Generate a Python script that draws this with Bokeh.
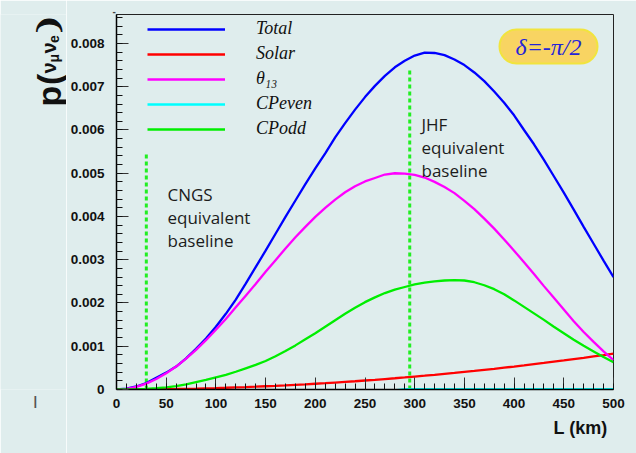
import math
from bokeh.plotting import figure
from bokeh.layouts import row
from bokeh.models import (Label, Legend, LegendItem, SingleIntervalTicker,
                          CustomJSTickFormatter, Range1d, Title)
from bokeh.embed import file_html
from bokeh.resources import INLINE

# ---------------- data ----------------
L_km = [0, 10, 20, 30, 40, 50, 60, 70, 80, 90, 100, 110, 120, 130, 140, 150,
        160, 170, 180, 190, 200, 210, 220, 230, 240, 250, 260, 270, 280, 290,
        300, 310, 320, 330, 340, 350, 360, 370, 380, 390, 400, 410, 420, 430,
        440, 450, 460, 470, 480, 490, 500]
total = [0, 0.00002, 0.00007, 0.00015, 0.00027, 0.00039, 0.00053, 0.00072,
         0.00094, 0.00118, 0.00145, 0.00175, 0.00208, 0.00245, 0.00283,
         0.00321, 0.0036, 0.00399, 0.00437, 0.00475, 0.00511, 0.00546,
         0.00583, 0.00616, 0.00647, 0.00676, 0.00702, 0.00725, 0.00745,
         0.0076, 0.00772, 0.00779, 0.00778, 0.00773, 0.00763, 0.0075,
         0.00733, 0.00713, 0.00689, 0.00663, 0.00634, 0.006, 0.00567,
         0.00531, 0.00493, 0.00455, 0.00416, 0.00376, 0.00337, 0.00298,
         0.0026]
solar = [0, 0.0000003, 0.0000013, 0.000003, 0.0000053, 0.0000083, 0.000012,
         0.000016, 0.000021, 0.000027, 0.000033, 0.00004, 0.000048, 0.000056,
         0.000065, 0.000075, 0.000085, 0.000096, 0.000108, 0.00012, 0.000133,
         0.000146, 0.000161, 0.000176, 0.000191, 0.000208, 0.000224,
         0.000242, 0.00026, 0.000279, 0.000299, 0.000319, 0.00034, 0.000362,
         0.000384, 0.000407, 0.00043, 0.000455, 0.000479, 0.000505, 0.000531,
         0.000558, 0.000586, 0.000614, 0.000643, 0.000672, 0.000703,
         0.000733, 0.000765, 0.000797, 0.00083]
theta13 = [0, 0.000015, 0.000061, 0.000136, 0.000241, 0.000373, 0.000531,
           0.000713, 0.000917, 0.00114, 0.00138, 0.00163, 0.0019, 0.00217,
           0.00244, 0.00272, 0.00299, 0.00326, 0.00352, 0.00376, 0.00399,
           0.0042, 0.00439, 0.00456, 0.0047, 0.00481, 0.00489, 0.00497,
           0.005, 0.00499, 0.00496, 0.0049, 0.0048, 0.00468, 0.00454,
           0.00436, 0.00417, 0.00395, 0.00372, 0.00347, 0.00321, 0.00294,
           0.00267, 0.00239, 0.00212, 0.00185, 0.00158, 0.00133, 0.0011,
           0.00088, 0.00068]
cp_even = [-0.00002] * 29 + [0.00001] * 22
cp_odd = [0, 0.000001, 0.000006, 0.000015, 0.00003, 0.00005, 0.00008,
          0.00012, 0.00017, 0.00022, 0.00028, 0.00034, 0.00041, 0.00049,
          0.00057, 0.00066, 0.00077, 0.00089, 0.00102, 0.00116, 0.0013,
          0.00145, 0.0016, 0.00175, 0.00189, 0.00202, 0.00213, 0.00223,
          0.00231, 0.00237, 0.00243, 0.00247, 0.0025, 0.00252, 0.00253,
          0.00252, 0.00248, 0.00241, 0.00232, 0.0022, 0.00206, 0.00191,
          0.00176, 0.00161, 0.00145, 0.0013, 0.00115, 0.00101, 0.00088,
          0.00075, 0.00063]

series_names = ["Total", "Solar", "\u03b8\u2081\u2083", "CPeven", "CPodd"]
series_colors = ["#0000ff", "#ff0000", "#ff00ff", "#00ffff", "#00ee00"]

baseline_L = [30, 295]
baseline_top = [0.00545, 0.00742]
baseline_texts = [["CNGS", "equivalent", "baseline"], ["JHF", "equivalent", "baseline"]]

x_ticks_step = 50
y_ticks_step = 0.001
X_MAX = 500
Y_MAX = 0.00867

BG = "#dfeded"
W, H = 636, 453
LEFT_W = 66
FRAME_L, FRAME_R, FRAME_T, FRAME_B = 116, 613, 14, 389

# ---------------- main figure ----------------
p = figure(width=W - LEFT_W, height=H, output_backend="svg", toolbar_location=None,
           x_range=Range1d(0, X_MAX), y_range=Range1d(0, Y_MAX),
           min_border_left=FRAME_L - LEFT_W, min_border_right=W - FRAME_R,
           min_border_top=FRAME_T, min_border_bottom=H - FRAME_B)
p.background_fill_color = BG
p.border_fill_color = BG
p.outline_line_color = "#222222"
p.outline_line_width = 1
p.xgrid.visible = False
p.ygrid.visible = False

def dx(px):
    return (px - FRAME_L) * X_MAX / (FRAME_R - FRAME_L)
def dy(py):
    return (FRAME_B - py) * Y_MAX / (FRAME_B - FRAME_T)

for ax in (p.xaxis[0], p.yaxis[0]):
    ax.axis_line_color = "black"
    ax.axis_line_width = 1.5
    ax.major_tick_in = 12
    ax.major_tick_out = 0
    ax.minor_tick_in = 6
    ax.minor_tick_out = 0
    ax.major_tick_line_color = "#333333"
    ax.minor_tick_line_color = "#111111"
    ax.major_label_text_font = "Liberation Sans"
    ax.major_label_text_font_style = "bold"
    ax.major_label_text_font_size = "13.5px"
    ax.major_label_text_color = "#111111"

p.xaxis.ticker = SingleIntervalTicker(interval=x_ticks_step, num_minor_ticks=5)
p.yaxis.ticker = SingleIntervalTicker(interval=y_ticks_step, num_minor_ticks=5)
p.yaxis.formatter = CustomJSTickFormatter(code="return tick == 0 ? '0' : tick.toFixed(3);")
p.xaxis.major_label_standoff = 9
p.yaxis.major_label_standoff = 12

p.segment(x0=baseline_L, y0=[0, 0], x1=baseline_L, y1=baseline_top,
          line_color="#22ee22", line_width=3, line_dash="4 3")

renderers = []
for vals, col in zip([total, solar, theta13, cp_even, cp_odd], series_colors):
    renderers.append(p.line(L_km, vals, line_color=col, line_width=2.3))

legend = Legend(items=[LegendItem(label=n, renderers=[r])
                       for n, r in zip(series_names, renderers)],
                location=(31, 250), padding=0, margin=0, spacing=4,
                glyph_width=78, glyph_height=20, label_height=20,
                label_standoff=31,
                label_text_font="Liberation Serif",
                label_text_font_style="italic",
                label_text_font_size="18px",
                label_text_color="#111111",
                label_text_baseline="alphabetic",
                background_fill_alpha=0, border_line_alpha=0)
p.add_layout(legend)

text_lefts = [167, 421]
text_baselines = [[194, 217, 240], [124, 147, 170]]
for lines, xl, ys in zip(baseline_texts, text_lefts, text_baselines):
    for t, yb in zip(lines, ys):
        p.add_layout(Label(x=dx(xl), y=dy(yb), text=t, text_align="left",
                           text_baseline="alphabetic", text_font="Open Sans",
                           text_font_size="17px", text_color="#1c1c1c"))

p.add_layout(Label(x=dx(548), y=dy(46), text="\u03b4=-\u03c0/2",
                   text_align="center", text_baseline="middle",
                   text_font="Liberation Serif", text_font_style="italic",
                   text_font_size="24px", text_color="#2424d8",
                   background_fill_color="#f8d462",
                   border_line_color="#f1e43e", border_line_width=2,
                   border_radius=18, padding=(16, 4)))

p.add_layout(Title(text="L (km)", align="right", offset=6,
                   text_font="Liberation Sans", text_font_style="bold",
                   text_font_size="18px", text_color="#111111"), "below")
p.add_layout(Title(text="-", align="left", offset=-4, standoff=0,
                   text_font="Liberation Sans", text_font_size="10px",
                   text_color="#444444"), "above")

# ---------------- left strip with the y title ----------------
# (its frame is aligned with the main frame: py 14..389)
lf = figure(width=LEFT_W, height=H, output_backend="svg", toolbar_location=None,
            x_range=Range1d(0, LEFT_W), y_range=Range1d(H - FRAME_B, H - FRAME_T),
            x_axis_type=None, y_axis_type=None, min_border_left=0,
            min_border_right=0)
lf.background_fill_color = BG
lf.border_fill_color = BG
lf.outline_line_color = None
lf.xgrid.visible = False
lf.ygrid.visible = False

# (text, font px, baseline x px, start y px) -- text runs upward
pieces = [("p", 34, 48, 106), ("(", 34, 48, 84.5), ("\u03bd", 20, 48, 73),
          ("\u03bc", 14, 53, 62), ("\u03bd", 20, 48, 53), ("e", 14, 53, 42.5),
          ("\u2769", 28, 48, 36)]
for ch, fs, xb, ys in pieces:
    lf.add_layout(Label(x=xb, y=H - ys, text=ch, angle=math.pi / 2,
                        text_align="left", text_baseline="alphabetic",
                        text_font="Liberation Sans", text_font_style="bold",
                        text_font_size=f"{fs}px", text_color="#111111"))

lf.add_layout(Title(text="|", align="left", offset=33, standoff=2,
                    text_font="Liberation Sans", text_font_size="13px",
                    text_color="#555555"), "below")

layout = row(lf, p, spacing=0)
open("out.html", "w").write(file_html(layout, INLINE))
